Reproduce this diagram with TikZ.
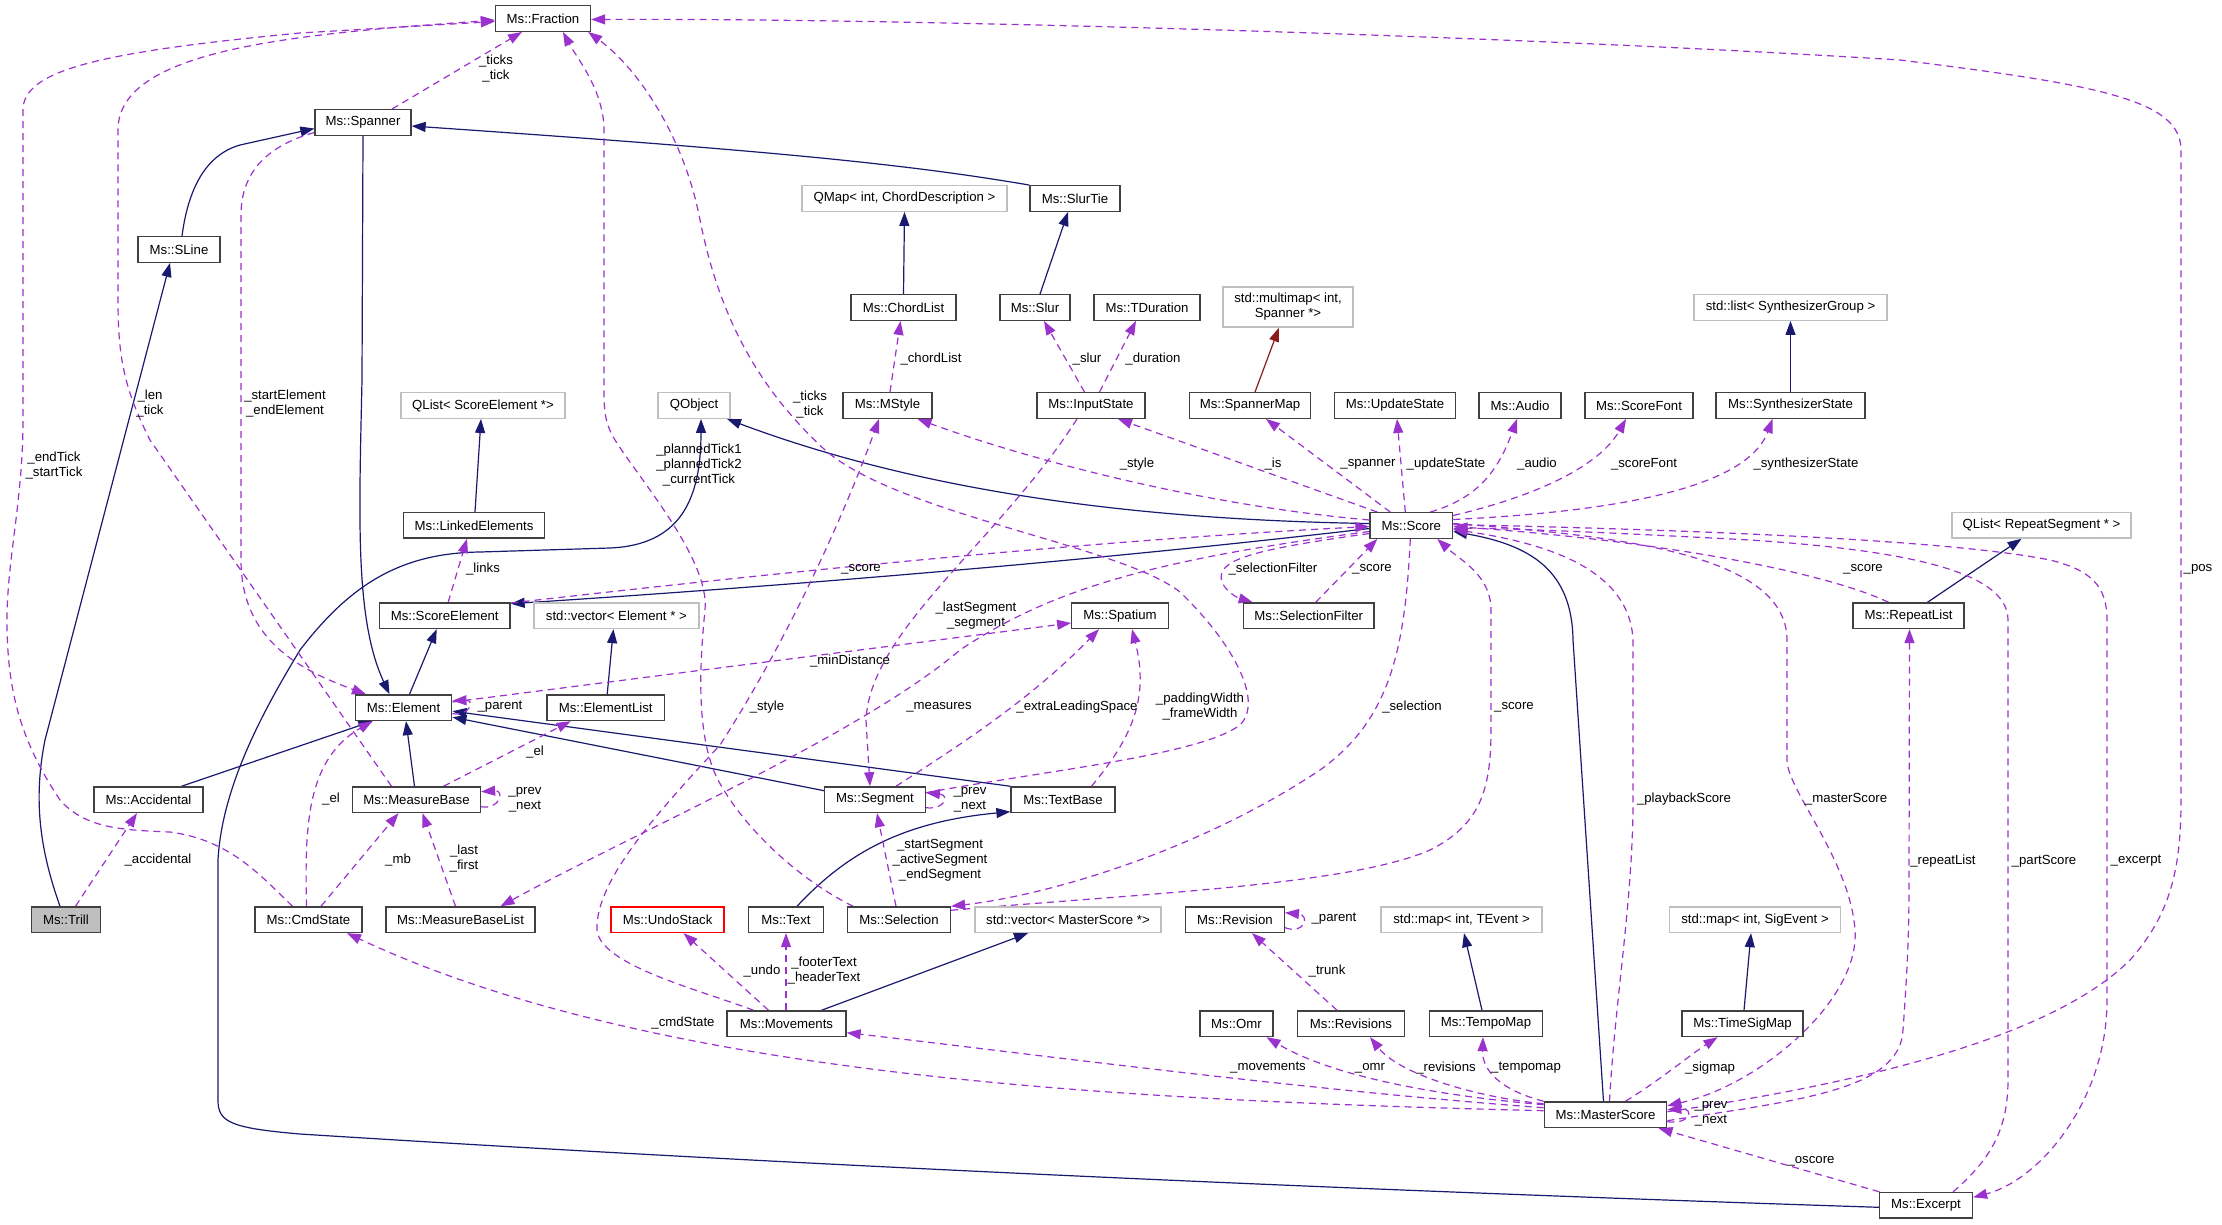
\documentclass[tikz,border=0pt]{standalone}
\usepackage{fontspec}
\setmainfont{Liberation Sans}
\usetikzlibrary{arrows.meta}
\definecolor{inhc}{HTML}{191970}
\definecolor{usec}{HTML}{9A32CD}
\definecolor{tplc}{HTML}{8B1A1A}
\definecolor{grayb}{HTML}{BFBFBF}
\definecolor{boxb}{HTML}{404040}
\newcommand\nfont{\fontsize{13.2}{15}\selectfont}
\pgfdeclarelayer{bgfill}
\pgfdeclarelayer{edges}
\pgfsetlayers{bgfill,edges,main}
\begin{document}
\begin{tikzpicture}[x=1pt,y=-1pt,
  cbox/.style={draw=boxb,line width=1.3pt,fill=white,minimum height=25.6pt,inner sep=0pt,font=\nfont},
  xbox/.style={cbox,draw=grayb},
  elabel/.style={font=\nfont,align=center,inner sep=0pt},
  tipx/.style={-{Triangle[length=14pt,width=10pt]}},
  inhedge/.style={draw=inhc,line width=1.2pt,tipx},
  useedge/.style={draw=usec,line width=1.2pt,dash pattern=on 7pt off 5pt,tipx},
  tmpledge/.style={draw=tplc,line width=1.2pt,tipx}]
\begin{pgfonlayer}{bgfill}
\fill[white] (0,0) rectangle (2222,1224);
\end{pgfonlayer}
\useasboundingbox (0,0) rectangle (2222,1224);

% nodes
\node[cbox,minimum width=95] (fraction) at (543,18.5) {Ms::Fraction};
\node[cbox,minimum width=96] (spanner) at (363,122.5) {Ms::Spanner};
\node[cbox,minimum width=82] (sline) at (179,249.5) {Ms::SLine};
\node[xbox,minimum width=164] (qlistse) at (483,405.5) {QList< ScoreElement *>};
\node[xbox,minimum width=72] (qobject) at (694,405.5) {QObject};
\node[xbox,minimum width=205] (qmap) at (904.5,198.5) {QMap< int, ChordDescription >};
\node[cbox,minimum width=90] (slurtie) at (1075,198.5) {Ms::SlurTie};
\node[cbox,minimum width=105] (chordlist) at (903.5,307.5) {Ms::ChordList};
\node[cbox,minimum width=70] (slur) at (1035,307.5) {Ms::Slur};
\node[cbox,minimum width=106] (tduration) at (1147,307.5) {Ms::TDuration};
\node[xbox,minimum width=130,minimum height=40,align=center] (multimap) at (1288,307) {std::multimap< int,\\Spanner *>};
\node[cbox,minimum width=89] (mstyle) at (887.5,405.5) {Ms::MStyle};
\node[cbox,minimum width=108] (inputstate) at (1091,405.5) {Ms::InputState};
\node[cbox,minimum width=121] (spannermap) at (1250,405.5) {Ms::SpannerMap};
\node[cbox,minimum width=121] (updatestate) at (1395,405.5) {Ms::UpdateState};
\node[cbox,minimum width=82] (audio) at (1520,405.5) {Ms::Audio};
\node[cbox,minimum width=108] (scorefont) at (1639,405.5) {Ms::ScoreFont};
\node[cbox,minimum width=149] (synthstate) at (1790.5,405.5) {Ms::SynthesizerState};
\node[xbox,minimum width=193] (synthlist) at (1790.5,307.5) {std::list< SynthesizerGroup >};
\node[cbox,minimum width=141] (linked) at (474,525.3) {Ms::LinkedElements};
\node[cbox,minimum width=82.6] (score) at (1411.3,525.5) {Ms::Score};
\node[xbox,minimum width=179] (qlistrs) at (2041.5,525.3) {QList< RepeatSegment * >};
\node[cbox,minimum width=130.6] (scoreel) at (444.7,615.7) {Ms::ScoreElement};
\node[xbox,minimum width=165] (vecel) at (616.4,615.7) {std::vector< Element * >};
\node[cbox,minimum width=96.5] (spatium) at (1120,615.7) {Ms::Spatium};
\node[cbox,minimum width=130.3] (selfilter) at (1308.7,615.7) {Ms::SelectionFilter};
\node[cbox,minimum width=111] (repeatlist) at (1908.5,615.7) {Ms::RepeatList};
\node[cbox,minimum width=96.6] (element) at (403.5,707.7) {Ms::Element};
\node[cbox,minimum width=117.5] (elementlist) at (605.7,707.7) {Ms::ElementList};
\node[cbox,minimum width=109] (accidental) at (148.5,799.7) {Ms::Accidental};
\node[cbox,minimum width=128] (measurebase) at (416.5,799.7) {Ms::MeasureBase};
\node[cbox,minimum width=100.5] (segment) at (875,799.7) {Ms::Segment};
\node[cbox,minimum width=104] (textbase) at (1063,799.7) {Ms::TextBase};
\node[cbox,fill=grayb,minimum width=69.5] (trill) at (66,919.7) {Ms::Trill};
\node[cbox,minimum width=107] (cmdstate) at (308.5,919.7) {Ms::CmdState};
\node[cbox,minimum width=149] (mblist) at (460.5,919.7) {Ms::MeasureBaseList};
\node[cbox,draw=red,minimum width=113] (undostack) at (667.6,919.7) {Ms::UndoStack};
\node[cbox,minimum width=75] (text) at (786,919.7) {Ms::Text};
\node[cbox,minimum width=103] (selection) at (899,919.7) {Ms::Selection};
\node[xbox,minimum width=186] (vecms) at (1068,919.7) {std::vector< MasterScore *>};
\node[cbox,minimum width=98.6] (revision) at (1235,919.7) {Ms::Revision};
\node[xbox,minimum width=161] (maptevent) at (1461.5,919.7) {std::map< int, TEvent >};
\node[xbox,minimum width=171.5] (sigevent) at (1755,919.7) {std::map< int, SigEvent >};
\node[cbox,minimum width=119] (movements) at (786.5,1023.7) {Ms::Movements};
\node[cbox,minimum width=73] (omr) at (1236.5,1023.7) {Ms::Omr};
\node[cbox,minimum width=106.5] (revisions) at (1351,1023.7) {Ms::Revisions};
\node[cbox,minimum width=113] (tempomap) at (1486,1023.7) {Ms::TempoMap};
\node[cbox,minimum width=121] (timesigmap) at (1742.5,1023.7) {Ms::TimeSigMap};
\node[cbox,minimum width=122.4] (masterscore) at (1605.5,1114.7) {Ms::MasterScore};
\node[cbox,minimum width=93] (excerpt) at (1926,1205.3) {Ms::Excerpt};

% labels
\node[elabel] (l1) at (496,69) {\_ticks\\\_tick};
\node[elabel] (l2) at (285,404) {\_startElement\\\_endElement};
\node[elabel] (l3) at (150,404) {\_len\\\_tick};
\node[elabel] (l4) at (54,466) {\_endTick\\\_startTick};
\node[elabel] (l5) at (810,405) {\_ticks\\\_tick};
\node[elabel] (l6) at (699,465) {\_plannedTick1\\\_plannedTick2\\\_currentTick};
\node[elabel] (l7) at (158,860) {\_accidental};
\node[elabel] (l8) at (331,799) {\_el};
\node[elabel] (l9) at (398,860) {\_mb};
\node[elabel] (l10) at (464,859) {\_last\\\_first};
\node[elabel] (l11) at (535,752) {\_el};
\node[elabel] (l12) at (525,800) {\_prev\\\_next};
\node[elabel] (l13) at (500,707) {\_parent};
\node[elabel] (l14) at (850,661) {\_minDistance};
\node[elabel] (l15) at (1077,707) {\_extraLeadingSpace};
\node[elabel] (l16) at (1200,707) {\_paddingWidth\\\_frameWidth};
\node[elabel] (l17) at (1137,464) {\_style};
\node[elabel] (l18) at (1273,464) {\_is};
\node[elabel] (l19) at (1368,464) {\_spanner};
\node[elabel] (l20) at (1446,464) {\_updateState};
\node[elabel] (l21) at (1537,464) {\_audio};
\node[elabel] (l22) at (1644,464) {\_scoreFont};
\node[elabel] (l23) at (1806,464) {\_synthesizerState};
\node[elabel] (l24) at (1087,359) {\_slur};
\node[elabel] (l25) at (1153,359) {\_duration};
\node[elabel] (l26) at (931,359) {\_chordList};
\node[elabel] (l27) at (976,616) {\_lastSegment\\\_segment};
\node[elabel] (l28) at (767,707) {\_style};
\node[elabel] (l29) at (939,707) {\_measures};
\node[elabel] (l30) at (1412,707) {\_selection};
\node[elabel] (l31) at (1514,707) {\_score};
\node[elabel] (l32) at (1372,569) {\_score};
\node[elabel] (l33) at (1273,569) {\_selectionFilter};
\node[elabel] (l34) at (861,569) {\_score};
\node[elabel] (l35) at (483,569) {\_links};
\node[elabel] (l36) at (970,800) {\_prev\\\_next};
\node[elabel] (l37) at (940,860) {\_startSegment\\\_activeSegment\\\_endSegment};
\node[elabel] (l38) at (824,971) {\_footerText\\\_headerText};
\node[elabel] (l39) at (762,971) {\_undo};
\node[elabel] (l40) at (683,1023) {\_cmdState};
\node[elabel] (l41) at (1268,1068) {\_movements};
\node[elabel] (l42) at (1370,1068) {\_omr};
\node[elabel] (l43) at (1446,1068) {\_revisions};
\node[elabel] (l44) at (1526,1068) {\_tempomap};
\node[elabel] (l45) at (1327,971) {\_trunk};
\node[elabel] (l46) at (1334,919) {\_parent};
\node[elabel] (l47) at (1710,1068) {\_sigmap};
\node[elabel] (l48) at (1846,799) {\_masterScore};
\node[elabel] (l49) at (1711,1114) {\_prev\\\_next};
\node[elabel] (l50) at (1684,799) {\_playbackScore};
\node[elabel] (l51) at (1943,861) {\_repeatList};
\node[elabel] (l52) at (1863,569) {\_score};
\node[elabel] (l53) at (2044,861) {\_partScore};
\node[elabel] (l54) at (2136,861) {\_excerpt};
\node[elabel] (l55) at (1811,1161) {\_oscore};
\node[elabel] (l56) at (2198,569) {\_pos};

\begin{pgfonlayer}{edges}
% inheritance
\draw[inhedge] ([xshift=3]sline.north) .. controls (188,190) and (205,155) .. (240,145) -- ([yshift=-6]spanner.west);
\draw[inhedge] ([xshift=-6]trill.north) .. controls (40,850) and (33,800) .. (45,740) -- ([xshift=-9]sline.south);
\draw[inhedge] (spanner.south) -- (362,380) .. controls (359,520) and (355,620) .. ([xshift=-14]element.north);
\draw[inhedge] ([xshift=6]element.north) -- ([xshift=-8]scoreel.south);
\draw[inhedge] ([xshift=33]accidental.north) -- ([xshift=-31]element.south);
\draw[inhedge] ([xshift=-2]measurebase.north) -- ([xshift=2.5]element.south);
\draw[inhedge] ([yshift=9]segment.west) -- ([yshift=-9.5]element.east);
\draw[inhedge] (textbase.north west) -- ([yshift=-3.5]element.east);
\draw[inhedge] ([xshift=1.5]elementlist.north) -- ([xshift=-3]vecel.south);
\draw[inhedge] ([xshift=1]linked.north) -- ([xshift=-2]qlistse.south);
\draw[inhedge] ([yshift=2]score.west) .. controls (1150,520) and (930,495) .. ([xshift=33]qobject.south);
\draw[inhedge] ([yshift=-3]score.west) .. controls (1100,560) and (800,585) .. ([yshift=12]scoreel.east);
\draw[inhedge] ([xshift=-2]masterscore.north) -- (1573,640) .. controls (1572,570) and (1530,545) .. ([yshift=-6]score.east);
\draw[inhedge] ([yshift=-2]excerpt.west) .. controls (1500,1195) and (900,1172) .. (300,1134) .. controls (230,1128) and (218,1122) .. (218,1100) -- (218,860) .. controls (222,785) and (265,708) .. (300,650) .. controls (350,585) and (400,553) .. (480,552) -- (610,548) .. controls (680,545) and (701,500) .. ([xshift=7]qobject.south);
\draw[inhedge] (slurtie.north west) .. controls (900,163) and (760,150) .. ([yshift=-3.5]spanner.east);
\draw[inhedge] ([xshift=5]slur.north) -- ([xshift=-7]slurtie.south);
\draw[inhedge] (chordlist.north) -- (qmap.south);
\draw[inhedge] (synthstate.north) -- (synthlist.south);
\draw[inhedge] ([xshift=1.5]timesigmap.north) -- ([xshift=-4]sigevent.south);
\draw[inhedge] ([xshift=-4]tempomap.north) -- ([xshift=2.5]maptevent.south);
\draw[inhedge] ([xshift=35]movements.north) -- ([xshift=-40]vecms.south);
\draw[inhedge] ([xshift=11]text.north) .. controls (845,855) and (900,822) .. ([yshift=-12]textbase.west);
\draw[inhedge] ([xshift=19]repeatlist.north) -- ([xshift=-20]qlistrs.south);
\draw[tmpledge] ([xshift=5]spannermap.north) -- ([xshift=-9]multimap.south);

% usage
\draw[useedge] ([xshift=29]spanner.north) -- ([xshift=-21]fraction.south);
\draw[useedge] ([yshift=-10]spanner.west) .. controls (270,145) and (241,170) .. (241,215) -- (241,560) .. controls (241,640) and (300,670) .. ([xshift=-37.5]element.north);
\draw[useedge] ([xshift=-25]measurebase.north) -- (150,440) .. controls (125,390) and (118,360) .. (118,300) -- (118,130) .. controls (118,60) and (250,40) .. (400,27) -- ([yshift=-1.5]fraction.west);
\draw[useedge] ([xshift=-16]cmdstate.north) .. controls (260,875) and (230,840) .. (170,832) .. controls (120,830) and (85,828) .. (60,800) .. controls (20,740) and (7,690) .. (7,620) .. controls (7,560) and (23,500) .. (23,420) -- (23,110) .. controls (23,70) and (100,52) .. (300,33) -- ([yshift=-3]fraction.west);
\draw[useedge] ([yshift=7]segment.east) .. controls (1050,770) and (1200,755) .. (1240,725) .. controls (1265,700) and (1230,640) .. (1180,592) .. controls (1120,545) and (900,515) .. (825,450) .. controls (760,390) and (720,320) .. (700,220) .. controls (685,140) and (640,70) .. ([xshift=-3]fraction.south east);
\draw[useedge] ([xshift=-46]selection.north) .. controls (800,880) and (745,830) .. (718,780) .. controls (695,735) and (700,660) .. (705,610) .. controls (710,560) and (640,480) .. (615,440) .. controls (606,425) and (604,415) .. (604,390) -- (604,130) .. controls (604,90) and (575,55) .. ([xshift=20]fraction.south);
\draw[useedge] ([xshift=9.5]trill.north) -- ([xshift=-11.5]accidental.south);
\draw[useedge] ([xshift=-2]cmdstate.north) .. controls (305,830) and (305,760) .. ([xshift=-31]element.south);
\draw[useedge] ([xshift=12.5]cmdstate.north) -- ([xshift=-18]measurebase.south);
\draw[useedge] ([xshift=-5]mblist.north) -- ([xshift=6]measurebase.south);
\draw[useedge] ([xshift=27]measurebase.north) -- ([xshift=-35]elementlist.south);
\draw[useedge] ([yshift=-7]measurebase.east) .. controls (500,810) and (505,790) .. ([yshift=8]measurebase.east);
\draw[useedge] ([yshift=-6]element.east) .. controls (470,716) and (475,700) .. ([yshift=7]element.east);
\draw[useedge] ([yshift=5.7]element.east) -- ([yshift=-7.3]spatium.west);
\draw[useedge] ([xshift=21]segment.north) .. controls (960,745) and (1030,700) .. ([xshift=-21]spatium.south);
\draw[useedge] ([xshift=28.5]textbase.north) .. controls (1130,740) and (1150,700) .. ([xshift=12]spatium.south);
\draw[useedge] ([yshift=5.5]score.west) .. controls (1200,505) and (1030,460) .. ([xshift=30]mstyle.south);
\draw[useedge] ([xshift=-34]score.north) -- ([xshift=27]inputstate.south);
\draw[useedge] ([xshift=-21]score.north) -- ([xshift=16]spannermap.south);
\draw[useedge] ([xshift=-6]score.north) -- ([xshift=2]updatestate.south);
\draw[useedge] ([xshift=19]score.north) .. controls (1470,500) and (1495,480) .. ([xshift=-3]audio.south);
\draw[useedge] ([yshift=10]score.east) .. controls (1540,495) and (1600,465) .. ([xshift=-13]scorefont.south);
\draw[useedge] ([yshift=6]score.east) .. controls (1650,510) and (1750,480) .. ([xshift=-18]synthstate.south);
\draw[useedge] ([xshift=-6.5]inputstate.north) -- ([xshift=9]slur.south);
\draw[useedge] ([xshift=8.5]inputstate.north) -- ([xshift=-11]tduration.south);
\draw[useedge] ([xshift=2.5]mstyle.north) -- ([xshift=-3]chordlist.south);
\draw[useedge] ([xshift=-14]inputstate.south) .. controls (1000,540) and (870,630) .. (866,720) -- ([xshift=-5]segment.north);
\draw[useedge] ([xshift=-33]movements.north) .. controls (700,990) and (600,965) .. (597,930) .. controls (595,880) and (660,810) .. (720,745) .. controls (775,660) and (835,540) .. ([xshift=-8.5]mstyle.south);
\draw[useedge] ([yshift=-6]score.west) .. controls (1150,560) and (1050,590) .. (960,650) .. controls (860,735) and (640,830) .. ([xshift=40]mblist.north);
\draw[useedge] ([xshift=-1]score.south) .. controls (1405,650) and (1390,720) .. (1320,770) .. controls (1200,850) and (1050,895) .. (selection.north east);
\draw[useedge] ([yshift=-4]selection.north east) .. controls (1150,893) and (1350,885) .. (1430,850) .. controls (1480,825) and (1491,790) .. (1491,730) -- (1491,610) .. controls (1491,575) and (1460,560) .. ([xshift=26]score.south);
\draw[useedge] ([xshift=7]selfilter.north) -- ([xshift=-34]score.south);
\draw[useedge] ([yshift=-8]score.west) .. controls (1250,550) and (1215,560) .. (1222,582) .. controls (1226,592) and (1238,598) .. ([xshift=-56]selfilter.north);
\draw[useedge] ([yshift=12.7]scoreel.east) .. controls (800,570) and (1100,540) .. ([yshift=-1]score.west);
\draw[useedge] ([xshift=3.5]scoreel.north) -- ([xshift=-7]linked.south);
\draw[useedge] ([yshift=-8]segment.east) .. controls (945,810) and (950,795) .. ([yshift=7]segment.east);
\draw[useedge] ([xshift=-3]selection.north) -- ([xshift=2]segment.south);
\draw[useedge] ([xshift=-0.5]movements.north) -- (text.south);
\draw[useedge] ([xshift=-18]movements.north) -- ([xshift=16]undostack.south);
\draw[useedge] ([yshift=4]masterscore.west) .. controls (1100,1100) and (650,1075) .. ([xshift=38.5]cmdstate.south);
\draw[useedge] ([yshift=7]masterscore.west) .. controls (1300,1090) and (1000,1050) .. ([yshift=-9]movements.east);
\draw[useedge] ([yshift=10]masterscore.west) .. controls (1430,1095) and (1330,1075) .. ([xshift=30]omr.south);
\draw[useedge] ([yshift=11]masterscore.west) .. controls (1480,1098) and (1400,1075) .. ([xshift=19]revisions.south);
\draw[useedge] (masterscore.north west) .. controls (1500,1090) and (1482,1070) .. ([xshift=-3]tempomap.south);
\draw[useedge] ([xshift=-14]revisions.north) -- ([xshift=17]revision.south);
\draw[useedge] ([yshift=-8]revision.east) .. controls (1305,935) and (1310,915) .. ([yshift=7]revision.east);
\draw[useedge] ([xshift=20]masterscore.north) .. controls (1660,1080) and (1690,1055) .. ([xshift=-25]timesigmap.south);
\draw[useedge] ([yshift=2]score.east) .. controls (1600,535) and (1787,550) .. (1787,640) -- (1787,760) .. controls (1787,790) and (1850,860) .. (1855,930) .. controls (1860,1000) and (1760,1085) .. ([yshift=9]masterscore.east);
\draw[useedge] ([yshift=-7]masterscore.east) .. controls (1690,1125) and (1695,1108) .. ([yshift=5]masterscore.east);
\draw[useedge] ([xshift=4]masterscore.north) .. controls (1615,1000) and (1633,900) .. (1633,800) -- (1633,640) .. controls (1630,575) and (1560,545) .. ([yshift=-4]score.east);
\draw[useedge] ([yshift=-6]masterscore.east) .. controls (1800,1100) and (1900,1090) .. (1903,1030) .. controls (1908,960) and (1909,930) .. (1909,880) -- ([xshift=1]repeatlist.south);
\draw[useedge] ([xshift=-20]repeatlist.north) .. controls (1820,570) and (1650,540) .. ([yshift=-1]score.east);
\draw[useedge] ([xshift=27]excerpt.north) .. controls (1990,1160) and (2008,1130) .. (2008,1080) -- (2008,620) .. controls (2008,570) and (1900,550) .. (1750,540) .. controls (1600,532) and (1500,528) .. ([yshift=-3]score.east);
\draw[useedge] ([yshift=1]score.east) .. controls (1700,530) and (1950,540) .. (2050,560) .. controls (2090,570) and (2107,585) .. (2107,620) -- (2107,1000) .. controls (2107,1100) and (2040,1180) .. ([yshift=8]excerpt.east);
\draw[useedge] ([xshift=-46.5]excerpt.north) -- ([xshift=53]masterscore.south);
\draw[useedge] ([yshift=3]masterscore.east) .. controls (1850,1085) and (2050,1040) .. (2130,960) .. controls (2170,915) and (2181,870) .. (2181,800) -- (2181,150) .. controls (2181,100) and (2100,85) .. (1900,60) .. controls (1500,35) and (900,18) .. ([yshift=-1]fraction.east);
\end{pgfonlayer}
\end{tikzpicture}
\end{document}
